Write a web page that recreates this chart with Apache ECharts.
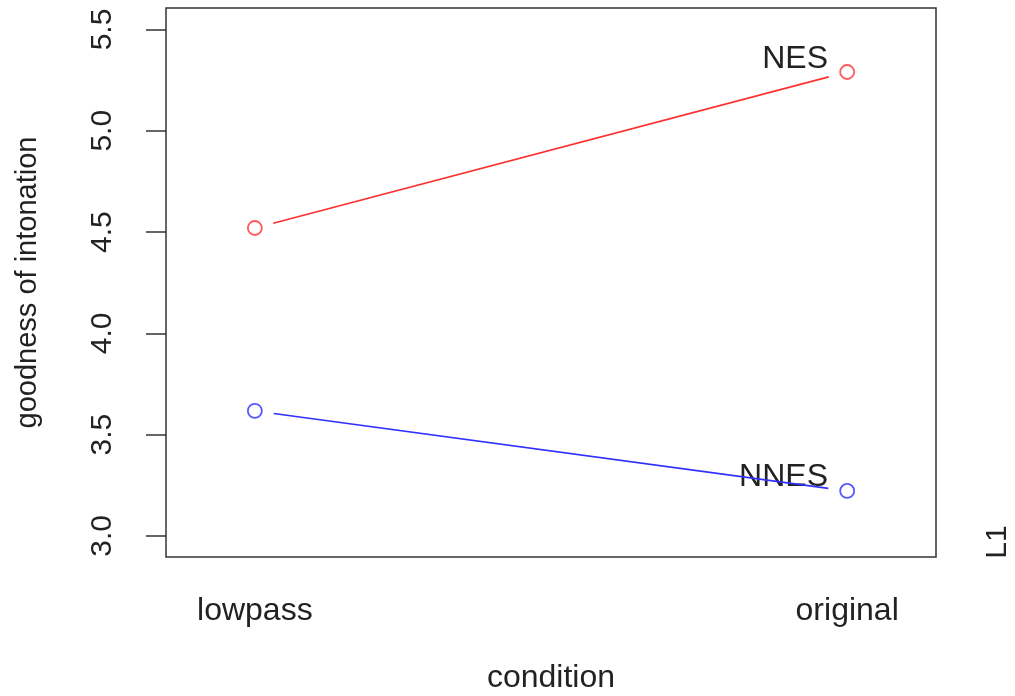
<!DOCTYPE html>
<html>
<head>
<meta charset="utf-8">
<script src="https://cdn.jsdelivr.net/npm/echarts@6/dist/echarts.min.js"></script>
<style>
  html, body { margin: 0; padding: 0; background: #fff; }
  #chart { width: 1015px; height: 696px; }
</style>
</head>
<body>
<div id="chart"></div>
<script>
  // data
  var conditions = ['lowpass', 'original'];
  var conditionPos = [1, 2];
  var nesValues = [4.52, 5.29];
  var nnesValues = [3.617, 3.222];
  var yTicks = [3.0, 3.5, 4.0, 4.5, 5.0, 5.5];
  var groupNames = ['NES', 'NNES'];

  var FONT = 'Liberation Sans, Arial, Helvetica, sans-serif';
  var FS = 32;   // horizontal text
  var FSV = 30;  // rotated text
  var TXT = '#222';

  function pairs(vals) {
    return vals.map(function (v, i) { return [conditionPos[i], v]; });
  }

  // R type="b" style: segments with a gap round each point
  function gapLine(vals, color) {
    return {
      type: 'custom',
      silent: true,
      data: pairs(vals),
      renderItem: function (params, api) {
        var i = params.dataIndex;
        if (i >= vals.length - 1) return null;
        var a = api.coord([conditionPos[i], vals[i]]);
        var b = api.coord([conditionPos[i + 1], vals[i + 1]]);
        var dx = b[0] - a[0], dy = b[1] - a[1];
        var len = Math.sqrt(dx * dx + dy * dy);
        var g = 19 / len;
        return {
          type: 'line',
          shape: {
            x1: a[0] + dx * g, y1: a[1] + dy * g,
            x2: b[0] - dx * g, y2: b[1] - dy * g
          },
          style: { stroke: color, lineWidth: 1.6 }
        };
      }
    };
  }

  function points(vals, color) {
    return {
      type: 'scatter',
      silent: true,
      data: pairs(vals),
      symbol: 'circle',
      symbolSize: 14,
      itemStyle: { color: 'rgba(0,0,0,0)', borderColor: color, borderWidth: 1.8 }
    };
  }

  var myChart = echarts.init(document.getElementById('chart'));
  myChart.setOption({
    animation: false,
    backgroundColor: '#fff',
    grid: {
      left: 166, top: 8, width: 770, height: 549,
      containLabel: false,
      outerBoundsMode: 'none',
      show: true, borderColor: '#333', borderWidth: 1.5, backgroundColor: 'transparent'
    },
    xAxis: {
      type: 'value',
      min: 0.85, max: 2.15,
      splitLine: { show: false },
      axisLine: { show: false },
      axisTick: { show: false },
      axisLabel: {
        customValues: conditionPos,
        margin: 38,
        fontSize: FS, fontFamily: FONT, color: TXT,
        formatter: function (v) { return conditions[conditionPos.indexOf(v)]; }
      },
      name: 'condition',
      nameLocation: 'middle',
      nameGap: 105,
      nameTextStyle: { fontSize: FS, fontFamily: FONT, color: TXT }
    },
    yAxis: {
      type: 'value',
      min: 2.896, max: 5.606,
      splitLine: { show: false },
      axisLine: { show: false },
      axisTick: { show: true, customValues: yTicks, length: 20, lineStyle: { color: '#333', width: 1.5 } },
      axisLabel: {
        customValues: yTicks,
        rotate: 90,
        margin: 48,
        fontSize: FSV, fontFamily: FONT, color: TXT,
        formatter: function (v) { return v.toFixed(1); }
      },
      name: 'goodness of intonation',
      nameLocation: 'middle',
      nameRotate: 90,
      nameGap: 124,
      nameTextStyle: { fontSize: FSV - 1, fontFamily: FONT, color: TXT, padding: [0, 0, 0, 0] }
    },
    graphic: [
      { type: 'text', x: 828, y: 59,
        style: { text: groupNames[0], font: FS + 'px ' + FONT, fill: TXT, align: 'right', verticalAlign: 'middle' } },
      { type: 'text', x: 828, y: 477,
        style: { text: groupNames[1], font: FS + 'px ' + FONT, fill: TXT, align: 'right', verticalAlign: 'middle' } },
      { type: 'text', x: 998, y: 542, rotation: Math.PI / 2,
        style: { text: 'L1', font: FSV + 'px ' + FONT, fill: TXT, align: 'center', verticalAlign: 'middle' } }
    ],
    series: [
      gapLine(nesValues, '#ff3030'),
      gapLine(nnesValues, '#3030ff'),
      points(nesValues, '#ff3030'),
      points(nnesValues, '#3030ff')
    ]
  });
</script>
</body>
</html>
